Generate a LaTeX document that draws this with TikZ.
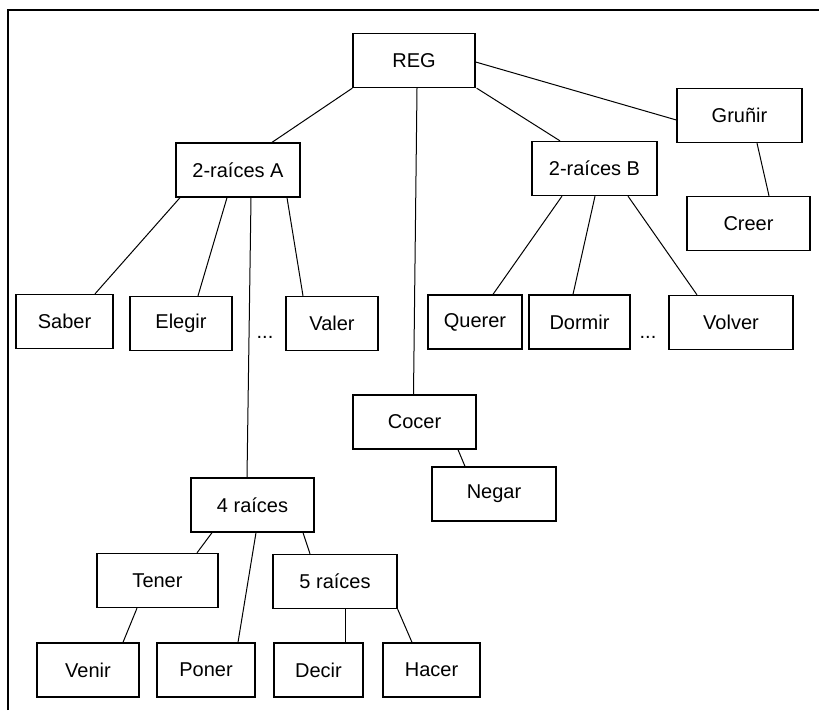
\documentclass[tikz,border=0pt]{standalone}
\usepackage{fontspec}
\setmainfont{Liberation Sans}
\begin{document}
\begin{tikzpicture}[x=1pt,y=-1pt,
  verb/.style={draw,line width=1.3pt,inner sep=0pt,minimum height=54pt,font=\fontsize{20}{24}\selectfont},
  link/.style={line width=1pt},
  frame/.style={line width=1.3pt}]
\useasboundingbox (0,0) rectangle (819,710);
% open frame
\draw[frame] (8,710) -- (8,10) -- (819,10);
% nodes
\node[verb,minimum width=122pt] (reg)   at (414,60.5)   {REG};
\node[verb,minimum width=125pt] (gru)   at (739.5,115.5){Gruñir};
\node[verb,minimum width=124pt] (ra)    at (238,170)    {2-raíces A};
\node[verb,minimum width=125pt] (rb)    at (594.5,168.5){2-raíces B};
\node[verb,minimum width=123pt] (creer) at (748.5,223.5){Creer};
\node[verb,minimum width=97pt]  (saber) at (64.5,321.5) {Saber};
\node[verb,minimum width=102pt] (elegir)at (181,323.5)  {Elegir};
\node[verb,minimum width=92pt]  (valer) at (332,323.5)  {Valer};
\node[verb,minimum width=94pt]  (querer)at (475,322)    {Querer};
\node[verb,minimum width=101pt] (dormir)at (579.5,322)  {Dormir};
\node[verb,minimum width=124pt] (volver)at (731,322.5)  {Volver};
\node[verb,minimum width=123pt] (cocer) at (414.5,422)  {Cocer};
\node[verb,minimum width=124pt] (negar) at (494,494)    {Negar};
\node[verb,minimum width=123pt] (four)  at (252.5,505)  {4 raíces};
\node[verb,minimum width=121pt] (tener) at (157.5,580.5){Tener};
\node[verb,minimum width=124pt] (five)  at (335,581.5)  {5 raíces};
\node[verb,minimum width=102pt] (venir) at (88,670)     {Venir};
\node[verb,minimum width=98pt]  (poner) at (206,670)    {Poner};
\node[verb,minimum width=89pt]  (decir) at (318.5,670)  {Decir};
\node[verb,minimum width=97pt]  (hacer) at (431.5,670)  {Hacer};
% ellipses between sibling groups
\node[anchor=base,inner sep=0pt,font=\fontsize{20}{24}\selectfont] (dotsa) at (265,338) {...};
\node[anchor=base,inner sep=0pt,font=\fontsize{20}{24}\selectfont] (dotsb) at (648,338) {...};
% connectors
\draw[link] (reg.south west) -- ([xshift=34pt]ra.north);
\draw[link] ([xshift=1pt]reg.south east) -- ([xshift=-34.5pt]rb.north);
\draw[link] ([yshift=-1.5pt]reg.east) -- ([yshift=-4.5pt]gru.west);
\draw[link] ([xshift=3pt]reg.south) -- ([xshift=-1pt]cocer.north);
\draw[link] ([xshift=17.5pt]gru.south) -- ([xshift=20.5pt]creer.north);
\draw[link] ([xshift=-58pt]ra.south) -- ([xshift=30.5pt]saber.north);
\draw[link] ([xshift=-11pt]ra.south) -- ([xshift=17pt]elegir.north);
\draw[link] ([xshift=13pt]ra.south) -- ([xshift=-5.5pt]four.north);
\draw[link] ([xshift=49pt]ra.south) -- ([xshift=-29pt]valer.north);
\draw[link] ([xshift=-32.5pt]rb.south) -- ([xshift=18pt]querer.north);
\draw[link] ([xshift=0.5pt]rb.south) -- ([xshift=-6.5pt]dormir.north);
\draw[link] ([xshift=33.5pt]rb.south) -- ([xshift=-34pt]volver.north);
\draw[link] ([xshift=43.5pt]cocer.south) -- ([xshift=-29pt]negar.north);
\draw[link] ([xshift=-40.5pt]four.south) -- ([xshift=39.5pt]tener.north);
\draw[link] ([xshift=3.5pt]four.south) -- ([xshift=32pt]poner.north);
\draw[link] ([xshift=50.5pt]four.south) -- ([xshift=-25pt]five.north);
\draw[link] ([xshift=-20.5pt]tener.south) -- ([xshift=35pt]venir.north);
\draw[link] ([xshift=10pt]five.south) -- ([xshift=26.5pt]decir.north);
\draw[link] (five.south east) -- ([xshift=-19.5pt]hacer.north);
\end{tikzpicture}
\end{document}
